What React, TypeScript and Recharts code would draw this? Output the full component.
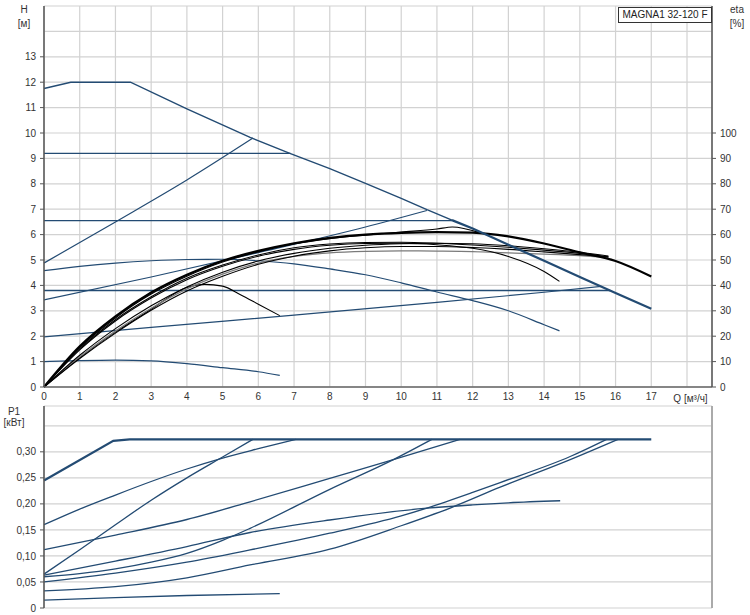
import React from 'react';
import { LineChart, Line, XAxis, YAxis, CartesianGrid } from 'recharts';

const FONT = "'Liberation Sans', Arial, sans-serif";
const BLUE = '#234b73';
const BLACK = '#000000';
const GRAY = '#7a7a7a';

// ---------- axis ticks ----------
const qTicks = [0, 1, 2, 3, 4, 5, 6, 7, 8, 9, 10, 11, 12, 13, 14, 15, 16, 17, 18];
const hTicks = [0, 1, 2, 3, 4, 5, 6, 7, 8, 9, 10, 11, 12, 13, 14, 15];
const etaTicks = [0, 10, 20, 30, 40, 50, 60, 70, 80, 90, 100];
const pTicks = [0, 0.05, 0.1, 0.15, 0.2, 0.25, 0.3, 0.35];

// ---------- H curves [m] ----------
const qMaxA = [0, 0.75, 2.42, 4, 5.77, 6.9, 8, 9, 10, 10.72, 11.42];
const hMaxA = [11.75, 12, 12, 10.95, 9.83, 9.19, 8.6, 8.02, 7.43, 6.98, 6.57];
const qMaxB = [11.42, 12, 13, 14, 15, 16, 17];
const hMaxB = [6.57, 6.24, 5.6, 4.97, 4.33, 3.7, 3.08];

const qCp1 = [0, 6.9];
const hCp1 = [9.2, 9.2];
const qCp2 = [0, 11.42];
const hCp2 = [6.55, 6.55];
const qCp3 = [0, 15.85];
const hCp3 = [3.8, 3.8];

const qPp1 = [0, 2, 4, 5.85];
const hPp1 = [4.88, 6.5, 8.15, 9.8];
const qPp2 = [0, 3, 6, 9, 10.72];
const hPp2 = [3.43, 4.33, 5.29, 6.3, 6.95];
const qPp3 = [0, 3, 7, 11, 14, 15.6];
const hPp3 = [1.97, 2.35, 2.83, 3.33, 3.73, 3.96];

const qFs1 = [0, 1, 2, 3, 4, 5, 6, 7, 8, 9, 10, 11, 12, 13, 14, 14.43];
const hFs1 = [4.58, 4.75, 4.88, 4.97, 5.02, 5.03, 4.97, 4.85, 4.65, 4.42, 4.1, 3.74, 3.4, 3.0, 2.45, 2.21];
const qFs2 = [0, 1, 2, 3, 4, 5, 6, 6.6];
const hFs2 = [1.0, 1.04, 1.06, 1.03, 0.92, 0.76, 0.6, 0.46];

// ---------- eta curves [%] ----------
const qE1 = [0, 1, 2, 3, 4, 5, 6, 7, 8, 9, 10, 11, 12, 13, 14, 15, 16, 17];
const eE1 = [0, 16, 27.8, 37.2, 44.2, 49.7, 53.6, 56.6, 58.7, 60, 60.7, 61, 60.8, 59.3, 56.5, 53, 49.6, 43.5];
const qE2 = [0, 1, 2, 3, 4, 5, 6, 7, 8, 9, 10, 11, 11.43, 12.2];
const eE2 = [0, 15.5, 27.2, 36.6, 43.6, 49.2, 53.2, 56.3, 58.4, 59.8, 61, 62.2, 63, 60.8];
const qE3 = [0, 1, 2, 3, 4, 5, 6, 7, 8, 9, 10, 11, 12, 13, 14, 15, 15.8];
const eE3 = [0, 15, 26.5, 35.5, 42.8, 48, 52, 54.8, 56.3, 56.9, 57, 56.6, 55.9, 55, 53.9, 52.6, 51.3];
const qE4 = [0, 1, 2, 3, 4, 5, 6, 7, 8, 9, 10, 11, 12, 13, 14, 14.43];
const eE4 = [0, 14.6, 26, 35, 42.2, 47.5, 51.5, 54.2, 55.8, 56.5, 56.6, 56, 54.6, 51.4, 45.5, 41.6];
const qE5 = [0, 1, 2, 3, 4, 5, 6, 7, 8, 9, 10, 11, 12, 13, 14, 15, 15.8];
const eE5 = [0, 11.8, 22, 31, 38.6, 44.4, 48.8, 51.4, 52.8, 53.4, 53.6, 53.5, 53.3, 52.8, 52.3, 51.7, 51];
const qE6 = [0, 1, 2, 3, 4, 5, 6, 7, 8, 9, 10, 11, 12, 13, 14, 15, 15.8];
const eE6 = [0, 11.2, 21.2, 30.2, 37.8, 43.6, 48.3, 51.5, 53.6, 54.8, 55.3, 55.3, 54.9, 54.2, 53.2, 52.1, 51.2];
const qE7 = [0, 1, 2, 3, 4, 5, 6, 7, 8, 9, 10, 11, 12, 13, 14, 15, 15.8];
const eE7 = [0, 12.5, 23, 32, 39.4, 45.2, 49.6, 52.6, 54.6, 55.8, 56.4, 56.6, 56.4, 55.6, 54.4, 53, 51.6];
const qE8 = [0, 1, 2, 3, 4, 4.5, 5, 5.5, 6, 6.6];
const eE8 = [0, 11.5, 21.6, 30.6, 39.2, 40.4, 39.7, 36.3, 32.6, 28.1];

// ---------- P1 curves [kW] ----------
const qP1 = [0, 1.94, 2.4, 17];
const pP1 = [0.245, 0.321, 0.324, 0.324];
const qP2 = [0, 1, 2, 3, 4, 5, 6, 7.05];
const pP2 = [0.16, 0.19, 0.217, 0.243, 0.267, 0.288, 0.306, 0.324];
const qP3 = [0, 1, 2, 3, 4, 5, 5.85];
const pP3 = [0.065, 0.112, 0.16, 0.207, 0.25, 0.29, 0.324];
const qP4 = [0, 2, 4, 5.77, 8, 9.78, 11.65];
const pP4 = [0.112, 0.14, 0.17, 0.204, 0.249, 0.285, 0.324];
const qP5 = [0, 1, 2, 3, 4, 5, 5.77, 8, 9.78, 10.86];
const pP5 = [0.06, 0.066, 0.075, 0.088, 0.105, 0.13, 0.153, 0.228, 0.285, 0.324];
const qP6 = [0, 2, 4, 5.77, 8, 10.72, 12, 13, 14.45];
const pP6 = [0.063, 0.09, 0.118, 0.145, 0.169, 0.1917, 0.198, 0.202, 0.206];
const qP7 = [0, 2, 4, 5.77, 8, 10, 10.72, 12, 12.77, 14.73, 15.75];
const pP7 = [0.05, 0.067, 0.088, 0.1115, 0.1436, 0.177, 0.192, 0.222, 0.241, 0.291, 0.324];
const qP8 = [0, 2, 4, 5.77, 8, 10, 11.37, 12.77, 14.73, 16.07];
const pP8 = [0.033, 0.041, 0.058, 0.0827, 0.113, 0.158, 0.192, 0.232, 0.285, 0.324];
const qP9 = [0, 2, 4, 6.6];
const pP9 = [0.015, 0.02, 0.024, 0.0275];

const pts = (qs: number[], vs: number[]) => qs.map((q, i) => ({ q, v: vs[i] }));

type S = { d: { q: number; v: number }[]; ax: string; c: string; w: number; t: 'linear' | 'monotone' };

const topSeries: S[] = [
  { d: pts(qCp1, hCp1), ax: 'h', c: BLUE, w: 1.3, t: 'linear' },
  { d: pts(qCp2, hCp2), ax: 'h', c: BLUE, w: 1.3, t: 'linear' },
  { d: pts(qCp3, hCp3), ax: 'h', c: BLUE, w: 1.3, t: 'linear' },
  { d: pts(qPp1, hPp1), ax: 'h', c: BLUE, w: 1.2, t: 'monotone' },
  { d: pts(qPp2, hPp2), ax: 'h', c: BLUE, w: 1.2, t: 'monotone' },
  { d: pts(qPp3, hPp3), ax: 'h', c: BLUE, w: 1.2, t: 'monotone' },
  { d: pts(qFs1, hFs1), ax: 'h', c: BLUE, w: 1.2, t: 'monotone' },
  { d: pts(qFs2, hFs2), ax: 'h', c: BLUE, w: 1.2, t: 'monotone' },
  { d: pts(qE8, eE8), ax: 'eta', c: BLACK, w: 1.1, t: 'monotone' },
  { d: pts(qE5, eE5), ax: 'eta', c: GRAY, w: 1.3, t: 'monotone' },
  { d: pts(qE6, eE6), ax: 'eta', c: BLACK, w: 1.1, t: 'monotone' },
  { d: pts(qE7, eE7), ax: 'eta', c: BLACK, w: 1.1, t: 'monotone' },
  { d: pts(qE4, eE4), ax: 'eta', c: BLACK, w: 1.1, t: 'monotone' },
  { d: pts(qE3, eE3), ax: 'eta', c: BLACK, w: 1.1, t: 'monotone' },
  { d: pts(qE2, eE2), ax: 'eta', c: BLACK, w: 1.2, t: 'monotone' },
  { d: pts(qE1, eE1), ax: 'eta', c: BLACK, w: 2.2, t: 'monotone' },
  { d: pts(qMaxA, hMaxA), ax: 'h', c: BLUE, w: 1.4, t: 'linear' },
  { d: pts(qMaxB, hMaxB), ax: 'h', c: BLUE, w: 2.3, t: 'linear' },
];

const bottomSeries: S[] = [
  { d: pts(qP2, pP2), ax: 'p', c: BLUE, w: 1.3, t: 'monotone' },
  { d: pts(qP3, pP3), ax: 'p', c: BLUE, w: 1.3, t: 'monotone' },
  { d: pts(qP4, pP4), ax: 'p', c: BLUE, w: 1.3, t: 'monotone' },
  { d: pts(qP5, pP5), ax: 'p', c: BLUE, w: 1.3, t: 'monotone' },
  { d: pts(qP6, pP6), ax: 'p', c: BLUE, w: 1.3, t: 'monotone' },
  { d: pts(qP7, pP7), ax: 'p', c: BLUE, w: 1.3, t: 'monotone' },
  { d: pts(qP8, pP8), ax: 'p', c: BLUE, w: 1.3, t: 'monotone' },
  { d: pts(qP9, pP9), ax: 'p', c: BLUE, w: 1.3, t: 'monotone' },
  { d: pts(qP1, pP1), ax: 'p', c: BLUE, w: 2.2, t: 'linear' },
];

const fmtP = (v: number) => (v === 0 ? '0' : v.toFixed(2).replace('.', ','));

function makeYTick(side: 'left' | 'right', hidden: number[], fmt: (v: number) => string) {
  return (p: any) => {
    const { x, y, payload } = p;
    const v = payload.value;
    if (hidden.some((h) => Math.abs(h - v) < 1e-9)) return <g />;
    const ax = side === 'left' ? x + 8 : x - 8;
    const t1 = side === 'left' ? ax - 4 : ax + 4;
    return (
      <g>
        <line x1={ax} x2={t1} y1={y} y2={y} stroke="#555" strokeWidth={1} />
        <text
          x={x}
          y={y}
          dy={3.6}
          textAnchor={side === 'left' ? 'end' : 'start'}
          fontSize={10}
          fill="#333"
          fontFamily={FONT}
        >
          {fmt(v)}
        </text>
      </g>
    );
  };
}

const XTick = (p: any) => {
  const { x, y, payload } = p;
  if (payload.value === 18) return <g />;
  return (
    <text x={x} y={y} dy={7.2} textAnchor="middle" fontSize={10} fill="#333" fontFamily={FONT}>
      {payload.value}
    </text>
  );
};

const Txt = ({ cx, cy, children, w = 60 }: { cx: number; cy: number; children: React.ReactNode; w?: number }) => (
  <div
    style={{
      position: 'absolute',
      left: cx - w / 2,
      top: cy - 6,
      width: w,
      height: 12,
      lineHeight: '12px',
      textAlign: 'center',
      fontSize: 10,
      color: '#333',
      fontFamily: FONT,
      whiteSpace: 'nowrap',
    }}
  >
    {children}
  </div>
);

const renderLines = (ss: S[]) =>
  ss.map((s, i) => (
    <Line
      key={i}
      data={s.d}
      dataKey="v"
      yAxisId={s.ax}
      type={s.t}
      stroke={s.c}
      strokeWidth={s.w}
      dot={false}
      activeDot={false}
      isAnimationActive={false}
    />
  ));

export default function App() {
  return (
    <div style={{ position: 'absolute', left: 0, top: 0, width: 750, height: 615, background: '#fff' }}>
      <div style={{ position: 'absolute', left: 0, top: 400 }}>
        <LineChart width={750} height={215} margin={{ top: 6, right: 8, bottom: 7, left: 14 }}>
          <CartesianGrid yAxisId="p" stroke="#d2d2d2" strokeWidth={1.2} />
          <XAxis
            type="number"
            dataKey="q"
            domain={[0, 18.7]}
            ticks={qTicks}
            interval={0}
            height={0}
            tick={false}
            tickLine={false}
            axisLine={{ stroke: '#aaa', strokeWidth: 2 }}
          />
          <XAxis
            xAxisId="t"
            orientation="top"
            type="number"
            dataKey="q"
            domain={[0, 18.7]}
            height={0}
            tick={false}
            tickLine={false}
            axisLine={{ stroke: '#bbb', strokeWidth: 1.2 }}
          />
          <YAxis
            yAxisId="p"
            type="number"
            domain={[0, 0.388]}
            ticks={pTicks}
            interval={0}
            width={30}
            tickSize={4}
            tickMargin={4}
            tickLine={false}
            tick={makeYTick('left', [0.35], fmtP)}
            axisLine={{ stroke: '#555', strokeWidth: 1.5 }}
          />
          <YAxis
            yAxisId="r"
            orientation="right"
            type="number"
            domain={[0, 1]}
            width={30}
            tick={false}
            tickLine={false}
            axisLine={{ stroke: '#aaa', strokeWidth: 2 }}
          />
          {renderLines(bottomSeries)}
        </LineChart>
      </div>

      <div style={{ position: 'absolute', left: 0, top: 0 }}>
        <LineChart width={750} height={406} margin={{ top: 6, right: 8, bottom: 6, left: 14 }}>
          <CartesianGrid yAxisId="h" stroke="#d2d2d2" strokeWidth={1.2} />
          <XAxis
            type="number"
            dataKey="q"
            domain={[0, 18.7]}
            ticks={qTicks}
            interval={0}
            height={13}
            tickSize={4}
            tickMargin={2}
            tickLine={false}
            tick={XTick}
            axisLine={{ stroke: '#666', strokeWidth: 1.5 }}
          />
          <XAxis
            xAxisId="t"
            orientation="top"
            type="number"
            dataKey="q"
            domain={[0, 18.7]}
            height={0}
            tick={false}
            tickLine={false}
            axisLine={{ stroke: '#bbb', strokeWidth: 1.2 }}
          />
          <YAxis
            yAxisId="h"
            type="number"
            domain={[0, 15]}
            ticks={hTicks}
            interval={0}
            width={30}
            tickSize={4}
            tickMargin={4}
            tickLine={false}
            tick={makeYTick('left', [14, 15], (v) => String(v))}
            axisLine={{ stroke: '#555', strokeWidth: 1.5 }}
          />
          <YAxis
            yAxisId="eta"
            orientation="right"
            type="number"
            domain={[0, 150]}
            ticks={etaTicks}
            interval={0}
            width={30}
            tickSize={4}
            tickMargin={4}
            tickLine={false}
            tick={makeYTick('right', [], (v) => String(v))}
            axisLine={{ stroke: '#555', strokeWidth: 1.5 }}
          />
          {renderLines(topSeries)}
        </LineChart>
      </div>

      <Txt cx={24} cy={10}>H</Txt>
      <Txt cx={24} cy={23.5}>[м]</Txt>
      <Txt cx={737} cy={10}>eta</Txt>
      <Txt cx={737} cy={23.5}>[%]</Txt>
      <Txt cx={14} cy={411.5}>P1</Txt>
      <Txt cx={14} cy={423}>[кВт]</Txt>
      <Txt cx={690.5} cy={398.5} w={50}>Q [м³/ч]</Txt>
      <div
        style={{
          position: 'absolute',
          left: 618,
          top: 7,
          width: 94,
          height: 16,
          boxSizing: 'border-box',
          border: '1px solid #333',
          background: '#fff',
          fontSize: 10,
          lineHeight: '14px',
          textAlign: 'center',
          color: '#222',
          fontFamily: FONT,
          whiteSpace: 'nowrap',
        }}
      >
        MAGNA1 32-120 F
      </div>
    </div>
  );
}
